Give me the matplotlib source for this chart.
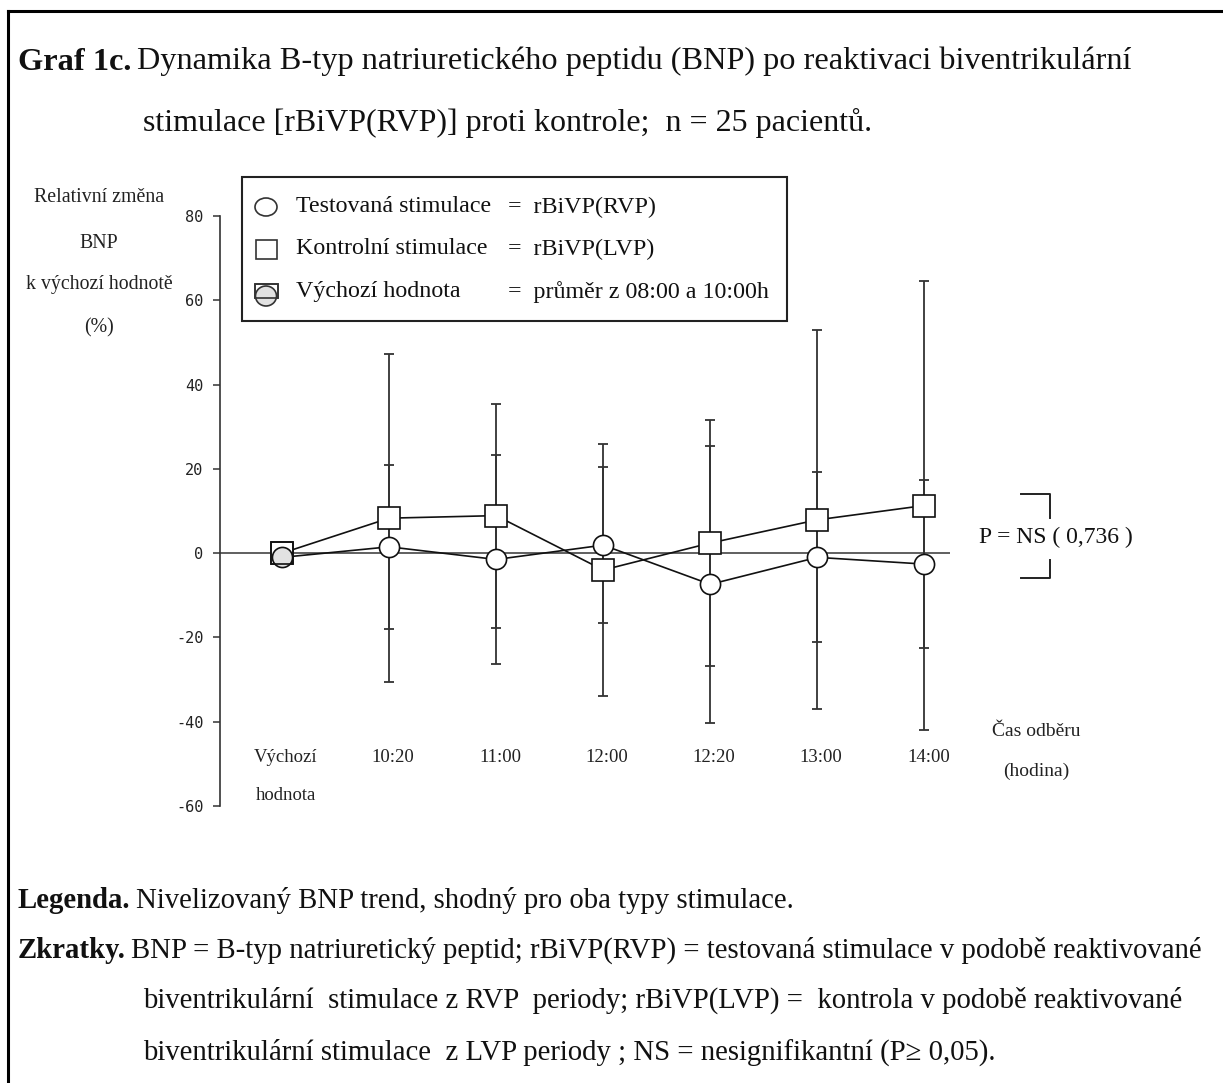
import numpy as np
import matplotlib
matplotlib.use("Agg")
import matplotlib.pyplot as plt
from matplotlib.lines import Line2D
from matplotlib.patches import Rectangle, Ellipse
from matplotlib.text import Annotation

# casy odberu (prvni bod = vychozi hodnota)
time_labels = ["Výchozí\nhodnota", "10:20", "11:00", "12:00", "12:20", "13:00", "14:00"]

# testovana stimulace rBiVP(RVP) - prumer a SD (%)
rvp_mean = [-1.0, 1.5, -1.5, 1.9, -7.4, -1.0, -2.6]
rvp_sd = [0.0, 19.5, 24.8, 18.5, 32.8, 20.2, 19.9]

# kontrolni stimulace rBiVP(LVP)
lvp_mean = [0.0, 8.3, 8.9, -4.0, 2.4, 7.9, 11.3]
lvp_sd = [0.0, 38.9, 26.6, 29.8, 29.1, 45.0, 53.3]

y_ticks = [-60, -40, -20, 0, 20, 40, 60, 80]

W, H = 1223, 1083
SERIF = "Liberation Serif"
INK = "#111111"


def fx(x):
    return x / W


def fy(y):
    return 1 - y / H


fig = plt.figure(figsize=(W / 100, H / 100), dpi=100)

# ramecek (jen horni a leva hrana)
fig.add_artist(Line2D([fx(8), 1.0], [fy(11), fy(11)], transform=fig.transFigure, color="black", lw=2.2))
fig.add_artist(Line2D([fx(8), fx(8)], [fy(11), 0.0], transform=fig.transFigure, color="black", lw=2.2))


def lead_text(x, y, lead, rest, size):
    t = fig.text(fx(x), fy(y), lead, fontsize=size, fontweight="bold", family=SERIF,
                 va="center", color=INK)
    a = Annotation(rest, xy=(1, 0), xycoords=t, xytext=(4, 0), textcoords="offset points",
                   va="bottom", ha="left", fontsize=size, family=SERIF, color=INK)
    fig.add_artist(a)


lead_text(18, 62, "Graf 1c.", "Dynamika B-typ natriuretického peptidu (BNP) po reaktivaci biventrikulární", 23.3)
fig.text(fx(143), fy(123), "stimulace [rBiVP(RVP)] proti kontrole;  n = 25 pacientů.",
         fontsize=23, family=SERIF, va="center", color=INK)

# graf
ax = fig.add_axes([fx(220), fy(806), fx(950) - fx(220), fy(216) - fy(806)])
ax.set_xlim(-0.58, 6.24)
ax.set_ylim(-60, 80)
for s in ["top", "right", "bottom"]:
    ax.spines[s].set_visible(False)
ax.spines["left"].set_color("#333333")
ax.spines["left"].set_linewidth(1.2)
ax.set_xticks([])
ax.set_yticks(y_ticks)
ax.set_yticklabels([str(v) for v in y_ticks], family="DejaVu Sans Mono", fontsize=11, color="#222222")
ax.tick_params(axis="y", direction="out", length=5, width=1.1, pad=7, color="#333333")

x = np.arange(len(time_labels))
ax.axhline(0, color="#444444", lw=1.2, zorder=1)

ax.errorbar(x[1:], lvp_mean[1:], yerr=lvp_sd[1:], fmt="none", ecolor="#333333",
            elinewidth=1.3, capsize=3.5, capthick=1.3, zorder=2)
ax.errorbar(x[1:], rvp_mean[1:], yerr=rvp_sd[1:], fmt="none", ecolor="#333333",
            elinewidth=1.3, capsize=3.5, capthick=1.3, zorder=2)

ax.plot(x, lvp_mean, color=INK, lw=1.2, zorder=3)
ax.plot(x, rvp_mean, color=INK, lw=1.2, zorder=3)
ax.plot(x[1:], lvp_mean[1:], "s", ms=15.5, mfc="white", mec=INK, mew=1.2, zorder=4)
ax.plot(x[1:], rvp_mean[1:], "o", ms=14.5, mfc="white", mec=INK, mew=1.2, zorder=5)

# vychozi hodnota
ax.plot(x[0], lvp_mean[0], "s", ms=15.5, mfc="white", mec=INK, mew=1.2, zorder=6)
ax.plot(x[0], rvp_mean[0], "o", ms=14.5, mfc="#e2e2e2", mec=INK, mew=1.2, zorder=7)
ax.plot(x[0], lvp_mean[0], "s", ms=15.5, mfc="none", mec=INK, mew=1.2, zorder=8)

for i, lab in enumerate(time_labels):
    lines = lab.split("\n")
    ax.annotate(lines[0], (x[i], -48.6), xytext=(4, 0), textcoords="offset pixels",
                ha="center", va="center", fontsize=13.5, family=SERIF, color="#222222")
    if len(lines) > 1:
        ax.annotate(lines[1], (x[i], -57.4), xytext=(4, 0), textcoords="offset pixels",
                    ha="center", va="center", fontsize=13.5, family=SERIF, color="#222222")

# popis osy y
for yy, txt in zip([198, 243, 285, 328], ["Relativní změna", "BNP", "k výchozí hodnotě", "(%)"]):
    fig.text(fx(99), fy(yy), txt, ha="center", va="center", fontsize=14.3, family=SERIF, color="#222222")

# popis osy x
fig.text(fx(1036), fy(732), "Čas odběru", ha="center", va="center", fontsize=14, family=SERIF, color="#222222")
fig.text(fx(1036), fy(771), "(hodina)", ha="center", va="center", fontsize=14, family=SERIF, color="#222222")

# P hodnota se zavorkou
fig.text(fx(979), fy(537), "P = NS ( 0,736 )", ha="left", va="center", fontsize=17, family=SERIF, color=INK)
fig.add_artist(Line2D([fx(1021), fx(1050), fx(1050)], [fy(494), fy(494), fy(518)],
                      transform=fig.transFigure, color="#222222", lw=1.4))
fig.add_artist(Line2D([fx(1021), fx(1050), fx(1050)], [fy(578), fy(578), fy(560)],
                      transform=fig.transFigure, color="#222222", lw=1.4))

# legenda
fig.add_artist(Rectangle((fx(242), fy(321)), fx(787) - fx(242), fy(177) - fy(321),
                         transform=fig.transFigure, fill=False, ec="#222222", lw=1.5))
rows = [207, 249, 292]
fig.add_artist(Ellipse((fx(266), fy(rows[0])), 22 / W, 18 / H, transform=fig.transFigure,
                       fc="white", ec="#333333", lw=1.2))
fig.add_artist(Rectangle((fx(256), fy(rows[1] + 10)), 21 / W, 19 / H, transform=fig.transFigure,
                         fc="white", ec="#333333", lw=1.2))
fig.add_artist(Rectangle((fx(255), fy(rows[2] + 6)), 23 / W, 14 / H, transform=fig.transFigure,
                         fc="white", ec="#333333", lw=1.2))
fig.add_artist(Ellipse((fx(266), fy(rows[2] + 4)), 21 / W, 20 / H, transform=fig.transFigure,
                       fc="#e2e2e2", ec="#333333", lw=1.2))
fig.add_artist(Rectangle((fx(255), fy(rows[2] + 6)), 23 / W, 14 / H, transform=fig.transFigure,
                         fill=False, ec="#333333", lw=1.2))
names = ["Testovaná stimulace", "Kontrolní stimulace", "Výchozí hodnota"]
values = ["=  rBiVP(RVP)", "=  rBiVP(LVP)", "=  průměr z 08:00 a 10:00h"]
for r, n, v in zip(rows, names, values):
    fig.text(fx(296), fy(r), n, ha="left", va="center", fontsize=17.3, family=SERIF, color=INK)
    fig.text(fx(508), fy(r), v, ha="left", va="center", fontsize=17.3, family=SERIF, color=INK)

# texty pod grafem
lead_text(18, 900, "Legenda.", "Nivelizovaný BNP trend, shodný pro oba typy stimulace.", 20.7)
lead_text(18, 951, "Zkratky.", "BNP = B-typ natriuretický peptid; rBiVP(RVP) = testovaná stimulace v podobě reaktivované", 20.7)
fig.text(fx(143), fy(1000), "biventrikulární  stimulace z RVP  periody; rBiVP(LVP) =  kontrola v podobě reaktivované",
         fontsize=20.7, family=SERIF, va="center", color=INK)
fig.text(fx(143), fy(1052), "biventrikulární stimulace  z LVP periody ; NS = nesignifikantní (P≥ 0,05).",
         fontsize=20.7, family=SERIF, va="center", color=INK)

fig.savefig("out.png", dpi=100, facecolor="white")
